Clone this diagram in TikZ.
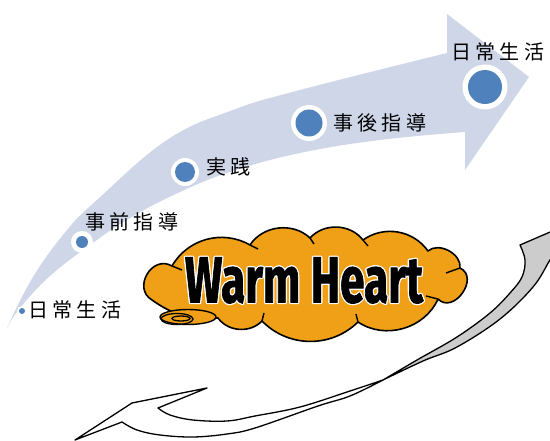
\documentclass[tikz,border=0pt]{standalone}
\usepackage{fontspec}
\usepackage{graphicx}
\newfontfamily\jpfont[LetterSpace=22]{Noto Sans CJK JP}
\newfontfamily\whfont{Fira Sans}[BoldFeatures={FakeBold=1.5}]
\definecolor{bandblue}{RGB}{206,214,232}
\definecolor{dotblue}{RGB}{79,129,189}
\definecolor{cloudorange}{RGB}{239,160,22}
\definecolor{ribbongray}{RGB}{204,204,204}
\newcommand\warmbox{\resizebox{238pt}{45pt}{\whfont\bfseries Warm Heart}}
\newcommand\warmshift[2]{\rlap{\color{white}\raisebox{#2}{\kern#1\warmbox}}}
\newcommand\warmoutlined{%
  \warmshift{1.3pt}{0pt}\warmshift{-1.3pt}{0pt}%
  \warmshift{0pt}{1.3pt}\warmshift{0pt}{-1.3pt}%
  \warmshift{0.9pt}{0.9pt}\warmshift{-0.9pt}{0.9pt}%
  \warmshift{0.9pt}{-0.9pt}\warmshift{-0.9pt}{-0.9pt}%
  \warmbox}
\tikzset{
  lbl/.style={anchor=west, inner sep=0pt, font=\jpfont\fontsize{20}{24}\selectfont},
  ring/.style={circle, fill=white, inner sep=0pt, minimum size=#1},
  core/.style={circle, fill=dotblue, inner sep=0pt, minimum size=#1},
  outl/.style={draw=black, line width=1.3pt, line join=round},
  cloudline/.style={draw=black, line width=1.6pt, line join=round, fill=cloudorange},
}
\begin{document}
\begin{tikzpicture}[x=1pt,y=-1pt]
\useasboundingbox (0,0) rectangle (550,441);
\begin{scope}
\clip (0,0) rectangle (550,441);
% big light-blue arrow
\fill[bandblue] plot[smooth, tension=0.7] coordinates {(7,328) (33,277) (67,230) (97,200) (167,140) (233,110) (300,90) (447,53)}
  -- (447,14) -- (529,77) -- (465,170) -- (465,132)
  -- plot[smooth, tension=0.7] coordinates {(465,132) (380,140) (300,153) (233,171) (180,192) (130,218) (90,245) (50,276) (20,308) (7,328)} -- cycle;
% dots
\node[ring=10pt] (d1o) at (22,311) {};
\node[core=6pt] (d1) at (22,311) {};
\node[ring=22pt] (d2o) at (82,242) {};
\node[core=12pt] (d2) at (82,242) {};
\node[ring=28pt] (d3o) at (185,172) {};
\node[core=20pt] (d3) at (185,172) {};
\node[ring=36pt] (d4o) at (309,123) {};
\node[core=27pt] (d4) at (309,123) {};
\node[ring=45pt] (d5o) at (485,87) {};
\node[core=34pt] (d5) at (485,87) {};
% labels
\node[lbl] (t1) at (28,310) {日常生活};
\node[lbl] (t2) at (85,222) {事前指導};
\node[lbl] (t3) at (206,167) {実践};
\node[lbl] (t4) at (333,123) {事後指導};
\node[lbl] (t5) at (451,52) {日常生活};
% cloud
\path[cloudline] (152,300) to[bend left=90, looseness=1.5] (172,266)
  to[bend left=45] (250,245)
  to[bend left=50] (310,238)
  to[bend left=50] (363,240)
  to[bend left=45] (428,251)
  to[bend left=70] (460,268)
  to[bend left=100, looseness=1.5] (438,299)
  to[bend left=50] (358,322)
  to[bend left=45] (262,321)
  to[bend left=50] (218,318)
  to[bend left=20] (152,300) -- cycle;
\draw[line width=1.4pt] (172,266) -- (182,270);
\draw[line width=1.4pt] (250,245) -- (258,249);
\draw[line width=1.4pt] (310,238) -- (314,244);
\draw[line width=1.4pt] (363,240) -- (368,246);
\draw[line width=1.4pt] (460,268) -- (446,273);
\draw[line width=1.4pt] (438,299) -- (426,296);
\draw[line width=1.4pt] (358,322) -- (356,314);
\draw[line width=1.4pt] (262,321) -- (264,313);
% scroll at lower left
\draw[cloudline, line width=1.4pt] (188,317) ellipse [x radius=28, y radius=7.5];
\draw[line width=1.3pt] (177,319) ellipse [x radius=16, y radius=5.5];
\draw[line width=1.3pt] (181,318.5) ellipse [x radius=9, y radius=2.5];
% Warm Heart text with white outline (single node)
\node[text=black, inner sep=0pt] (wh) at (304,280.5) {\warmoutlined};
% return ribbon arrow: grey back part
\path[outl, fill=ribbongray] plot[smooth, tension=0.6] coordinates {(383,380) (417,360) (457,337) (490,313) (510,293) (522,277) (525,260) (520,245)}
  -- (578,220) -- (562,242)
  -- plot[smooth, tension=0.6] coordinates {(562,242) (550,260) (533,287) (500,319) (457,347) (423,361) (383,380)} -- cycle;
% white front part with head
\path[outl, fill=white] plot[smooth, tension=0.6] coordinates {(383,380) (350,391) (300,407) (255,416) (227,421) (193,420) (170,415) (158,408)}
  -- (207,388) -- (132,403) -- (75,440) -- (122,422)
  -- plot[smooth, tension=0.6] coordinates {(122,422) (137,430) (160,435) (193,437) (227,434) (255,428) (318,406) (350,396) (383,380)} -- cycle;
\end{scope}
\end{tikzpicture}
\end{document}
